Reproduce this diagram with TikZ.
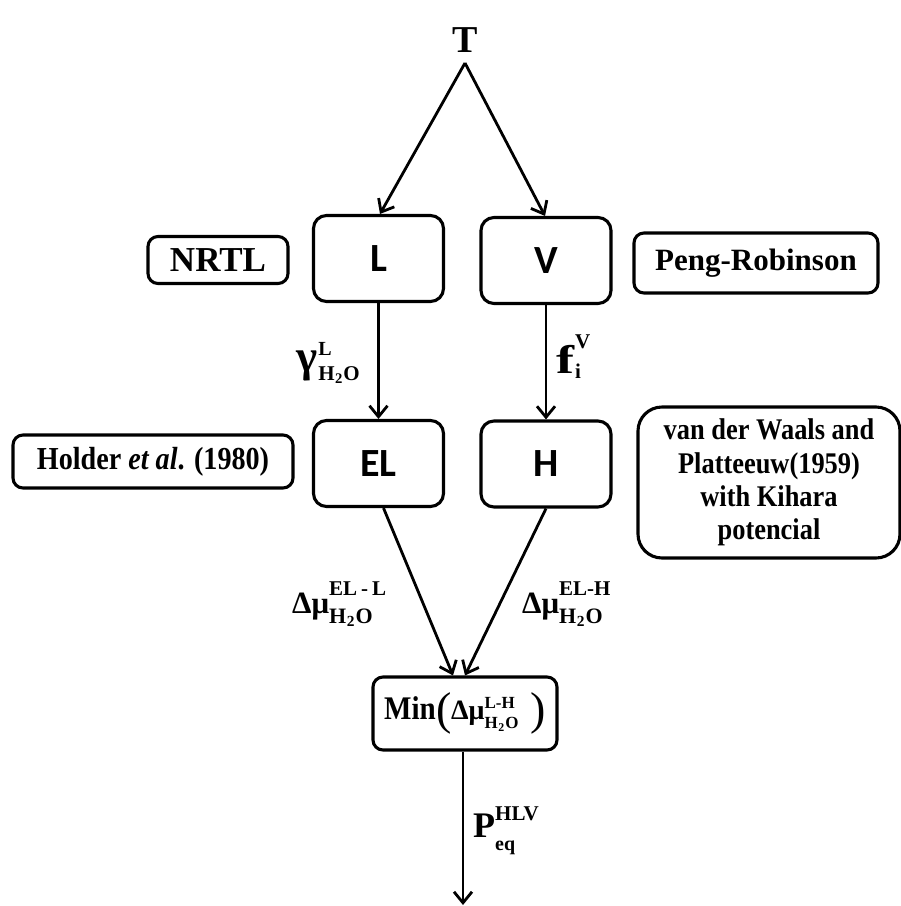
\documentclass[tikz,border=0pt]{standalone}
\usepackage{graphicx}
\usepackage{fontspec}
\setmainfont{Liberation Serif}
\newfontfamily\cond{Liberation Serif}[FakeStretch=0.88]
\newfontfamily\calib{Carlito}
\usetikzlibrary{arrows.meta}
\newcommand\fsz[1]{\fontsize{#1}{#1}\selectfont}
\newsavebox\supbx
\newsavebox\subbx
% base, superscript, subscript, raise, drop
\newcommand\supsub[5]{\mbox{#1}%
  \sbox\supbx{\raisebox{#4}{#2}}%
  \sbox\subbx{\raisebox{-#5}{#3}}%
  \ifdim\wd\supbx>\wd\subbx \rlap{\usebox\subbx}\usebox\supbx\else\rlap{\usebox\supbx}\usebox\subbx\fi}
\newcommand\water{H\kern0.5pt\textsubscript{2}\kern0.5pt O}
\begin{document}
\begin{tikzpicture}[x=1pt,y=-1pt,
  box/.style={draw, line width=3.1pt, rounded corners=13pt, inner sep=0pt},
  big/.style={box, minimum width=130pt, minimum height=86pt, font=\calib\bfseries\fsz{40}},
  side/.style={box, rounded corners=10pt, font=\bfseries\fsz{30}},
  conn/.style={line width=2.8pt, -{Straight Barb[length=11pt,width=18pt,line width=2.8pt]}},
  lab/.style={inner sep=0pt, anchor=base west, font=\bfseries}
]
\useasboundingbox (0,0) rectangle (901,906);

\node[font=\bfseries\fsz{38}, anchor=base] (T) at (465,52) {T};
\coordinate (apex) at (465,63);

\node[big] (L) at (378.5,258.5) {L};
\node[big] (V) at (546,260.5) {V};
\node[side, minimum width=140pt, minimum height=47pt, font=\bfseries\fsz{35}] (nrtl) at (218,260) {NRTL};
\node[side, minimum width=244pt, minimum height=60pt, font=\bfseries\fsz{31}] (pr) at (756,263) {Peng-Robinson};

\node[big] (EL) at (378.5,463.5) {EL};
\node[big] (H) at (546,464) {H};
\node[side, minimum width=280pt, minimum height=53pt, font=\cond\bfseries\fsz{32}] (holder) at (153,461.5) {Holder \textit{et al}. (1980)};
\node[side, minimum width=262pt, minimum height=151pt, rounded corners=24pt, align=center, font=\cond\bfseries\fontsize{30}{33.3}\selectfont] (vdw) at (769,482.5)
  {van der Waals and\\Platteeuw(1959)\\with Kihara\\potencial};

\node[side, minimum width=184pt, minimum height=73pt, font=\bfseries\fsz{33}] (min) at (465,713.5)
  {{\cond Min}\kern1pt\raisebox{-5pt}{\fsz{46}\mdseries(}\kern-1pt\supsub{\fsz{28}Δμ}{\fsz{17}L-H}{\fsz{17}\water}{11pt}{9pt}\hspace{12pt}\raisebox{-5pt}{\fsz{46}\mdseries)}\hspace{14pt}};
\coordinate (end) at (463,905);

\draw[conn] (apex) -- ([xshift=1.5pt]L.north);
\draw[conn] (apex) -- ([xshift=-1pt]V.north);
\draw[conn] (L) -- (EL);
\draw[conn] (V) -- (H);
\draw[conn] ([xshift=5pt]EL.south) -- ([xshift=-12pt]min.north);
\draw[conn] (H.south) -- ([xshift=0pt]min.north);
\draw[conn] ([xshift=-2pt]min.south) -- (end);

\node[lab] (gam) at (296,371) {\supsub{\fsz{45}γ\kern1pt}{\fsz{20}L}{\fsz{21}\water}{16pt}{9pt}};
\node[lab] (fiv) at (556,373) {\supsub{\fsz{40}\scalebox{1.35}[1]{f}\kern1pt}{\fsz{21}V}{\fsz{21}i}{25pt}{5pt}};
\node[lab] (dml) at (292,613) {\supsub{\fsz{31}Δμ}{\fsz{21}EL\kern4pt-\kern4pt L}{\fsz{22}\water}{18pt}{10pt}};
\node[lab] (dmh) at (522,613) {\supsub{\fsz{31}Δμ}{\fsz{21}EL-H}{\fsz{22}\water}{18pt}{10pt}};
\node[lab] (peq) at (473,837) {\supsub{\fsz{36}P}{\fsz{21}HLV}{\fsz{20}eq}{17pt}{13pt}};
\end{tikzpicture}
\end{document}
